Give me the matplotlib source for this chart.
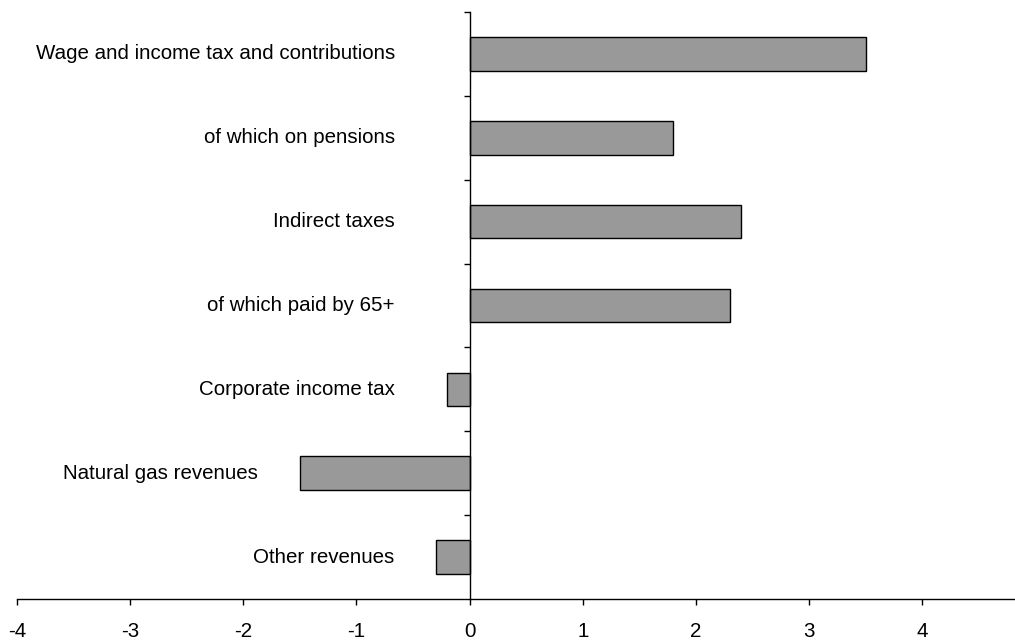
import matplotlib
matplotlib.use("Agg")
import matplotlib.pyplot as plt
import numpy as np

categories = ["Wage and income tax and contributions", "of which on pensions",
              "Indirect taxes", "of which paid by 65+", "Corporate income tax",
              "Natural gas revenues", "Other revenues"]
values = [3.5, 1.8, 2.4, 2.3, -0.2, -1.5, -0.3]
xticks = [-4, -3, -2, -1, 0, 1, 2, 3, 4]

plt.rcParams['font.family'] = ['Liberation Sans', 'DejaVu Sans']

fig = plt.figure(figsize=(10.15, 6.42), dpi=100)
ax = fig.add_axes([17/1015, 43/642, 1 - 17/1015, (599-12)/642])

n = len(categories)
y = np.arange(n)[::-1]
ax.barh(y, values, height=0.4, color='#999999', edgecolor='black', linewidth=1.0, zorder=3)

ax.set_xlim(-4, 4.82)
ax.set_ylim(-0.5, n - 0.5)
ax.spines['top'].set_visible(False)
ax.spines['right'].set_visible(False)
ax.spines['left'].set_position(('data', 0))
ax.spines['left'].set_zorder(4)
ax.spines['bottom'].set_linewidth(1.0)
ax.spines['left'].set_linewidth(1.0)

ax.set_yticks(np.arange(n) + 0.5)
ax.set_yticklabels([])
ax.tick_params(axis='y', direction='out', length=4.5, width=1.0)
ax.set_xticks(xticks)
ax.set_xticklabels([str(t) for t in xticks])
ax.tick_params(axis='x', direction='out', length=4.5, width=1.0, labelsize=14.8, pad=12)

for yi, lab, v in zip(y, categories, values):
    xpos = min(-0.66, v - 0.37)
    ax.text(xpos, yi, lab, ha='right', va='center', fontsize=14.8)

fig.savefig("out.png", dpi=100)
